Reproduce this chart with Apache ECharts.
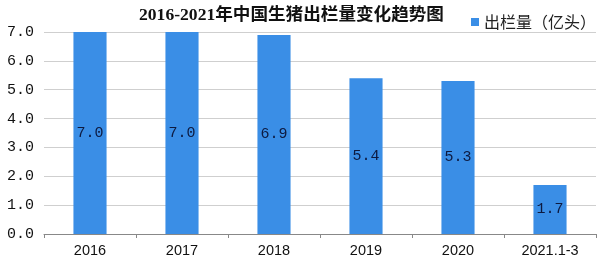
<!DOCTYPE html>
<html><head><meta charset="utf-8">
<script src="https://cdn.jsdelivr.net/npm/echarts@6/dist/echarts.min.js"></script>
<style>html,body{margin:0;padding:0;background:#fff}#c{width:606px;height:265px}</style>
</head><body><div id="c"></div>
<script>
var categories = ['2016','2017','2018','2019','2020','2021.1-3'];
var values = [7.0, 7.0, 6.9, 5.4, 5.3, 1.7];
var yTicks = [0,1,2,3,4,5,6,7];
var chart = echarts.init(document.getElementById('c'));
chart.setOption({
  animation:false,
  title:{text:'2016-2021年中国生猪出栏量变化趋势图',left:134,top:2,textStyle:{fontFamily:"'Liberation Serif','Noto Sans CJK SC'",fontWeight:'bold',fontSize:17.6,color:'#111'}},
  legend:{data:['出栏量（亿头）'],left:466,top:9,itemWidth:8,itemHeight:8,itemGap:3,icon:'rect',textStyle:{fontFamily:'Noto Sans CJK SC',fontSize:16,color:'#222'}},
  grid:{left:44,right:10,top:32,bottom:31},
  xAxis:{type:'category',data:categories,axisLine:{lineStyle:{color:'#888'}},axisTick:{show:true,lineStyle:{color:'#888'},length:4},axisLabel:{color:'#111',fontSize:14.5,fontFamily:'Liberation Sans',margin:9}},
  yAxis:{type:'value',min:0,max:7,interval:1,axisLine:{show:false},axisTick:{show:false},splitLine:{lineStyle:{color:'#cfcfcf'}},axisLabel:{color:'#111',fontSize:15,fontFamily:'Liberation Mono',margin:10,formatter:function(v){return v.toFixed(1);}}},
  series:[{name:'出栏量（亿头）',type:'bar',data:values,barWidth:'36%',itemStyle:{color:'#3a8ee6'},label:{show:true,position:'inside',color:'#0d1a40',fontSize:15,fontFamily:'Liberation Mono',formatter:function(p){return p.value.toFixed(1);}}}]
});
</script></body></html>
